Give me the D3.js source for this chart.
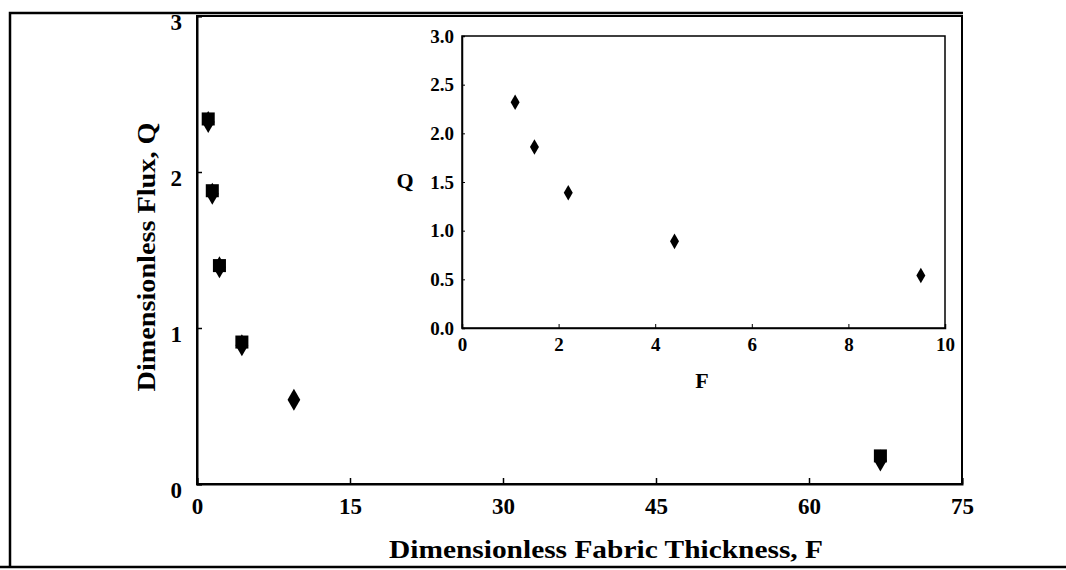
<!DOCTYPE html>
<html>
<head>
<meta charset="utf-8">
<script src="https://cdn.jsdelivr.net/npm/d3@7"></script>
<style>
  body { margin: 0; background: #fff; }
  svg { display: block; }
  text { font-family: "Liberation Serif", "DejaVu Serif", serif; font-weight: bold; fill: #000; }
</style>
</head>
<body>
<div id="chart"></div>
<script>
// data
const calcF = [1.1, 1.5, 2.2, 4.4, 9.5, 67];
const calcQ = [2.32, 1.86, 1.39, 0.89, 0.54, 0.15];
const measF = [1.1, 1.5, 2.2, 4.4, 67];
const measQ = [2.34, 1.88, 1.40, 0.91, 0.18];
const mainXTicks = [0, 15, 30, 45, 60, 75];
const mainYTicks = [0, 1, 2, 3];
const insetXTicks = [0, 2, 4, 6, 8, 10];
const insetYTicks = [0, 0.5, 1.0, 1.5, 2.0, 2.5, 3.0];

const width = 1066, height = 570;

const svg = d3.select("#chart").append("svg")
  .attr("width", width)
  .attr("height", height);

// outer frame (scanned box)
svg.append("path")
  .attr("d", "M10,567 L10,13 L963,13")
  .attr("fill", "none").attr("stroke", "#000").attr("stroke-width", 2.5);
svg.append("line")
  .attr("x1", 0).attr("x2", width).attr("y1", 567).attr("y2", 567)
  .attr("stroke", "#000").attr("stroke-width", 2.5);

// main plot
const x = d3.scaleLinear().domain([0, 75]).range([197, 962]);
const y = d3.scaleLinear().domain([0, 3]).range([484, 16]);

const main = svg.append("g");
main.append("rect")
  .attr("x", x(0)).attr("y", y(3))
  .attr("width", x(75) - x(0)).attr("height", y(0) - y(3))
  .attr("fill", "none").attr("stroke", "#000").attr("stroke-width", 2);

const xAxis = main.append("g")
  .attr("transform", `translate(0,${y(0)})`)
  .call(d3.axisBottom(x).tickValues(mainXTicks).tickFormat(d3.format("d")).tickSize(-6).tickPadding(16));
const yAxis = main.append("g")
  .attr("transform", `translate(${x(0)},0)`)
  .call(d3.axisLeft(y).tickValues(mainYTicks).tickFormat(d3.format("d")).tickSize(-5).tickPadding(15));
[xAxis, yAxis].forEach(a => {
  a.select(".domain").attr("stroke-width", 2);
  a.selectAll(".tick line").attr("stroke-width", 1.5);
  a.selectAll("text").style("font-size", "23px").attr("fill", "#000")
    .style("font-family", "'Liberation Serif', serif").style("font-weight", "bold");
});
yAxis.selectAll("text").attr("dy", "0.6em");
xAxis.selectAll("text").attr("dy", "0.6em");

main.append("text")
  .attr("transform", `translate(155,257) rotate(-90)`)
  .attr("text-anchor", "middle")
  .attr("textLength", 269)
  .attr("lengthAdjust", "spacingAndGlyphs")
  .style("font-size", "25px")
  .text("Dimensionless  Flux,  Q");

main.append("text")
  .attr("x", 606).attr("y", 558)
  .attr("text-anchor", "middle")
  .attr("textLength", 434)
  .attr("lengthAdjust", "spacingAndGlyphs")
  .style("font-size", "26px")
  .text("Dimensionless  Fabric  Thickness,  F");

const diamond = d3.symbol().type(d3.symbolDiamond);
const square = d3.symbol().type(d3.symbolSquare);

main.append("g").selectAll("path")
  .data(d3.range(calcF.length))
  .join("path")
    .attr("transform", i => `translate(${x(calcF[i])},${y(calcQ[i])})`)
    .attr("d", diamond.size(140)());

main.append("g").selectAll("path")
  .data(d3.range(measF.length))
  .join("path")
    .attr("transform", i => `translate(${x(measF[i])},${y(measQ[i])})`)
    .attr("d", square.size(170)());

// inset
const ix = d3.scaleLinear().domain([0, 10]).range([462, 945]);
const iy = d3.scaleLinear().domain([0, 3]).range([328, 36]);

const inset = svg.append("g");
inset.append("rect")
  .attr("x", ix(0)).attr("y", iy(3))
  .attr("width", ix(10) - ix(0)).attr("height", iy(0) - iy(3))
  .attr("fill", "#fff").attr("stroke", "#000").attr("stroke-width", 1.5);

const ixAxis = inset.append("g")
  .attr("transform", `translate(0,${iy(0)})`)
  .call(d3.axisBottom(ix).tickValues(insetXTicks).tickSize(-4).tickPadding(10));
const iyAxis = inset.append("g")
  .attr("transform", `translate(${ix(0)},0)`)
  .call(d3.axisLeft(iy).tickValues(insetYTicks).tickFormat(d3.format(".1f")).tickSize(-3).tickPadding(8));
[ixAxis, iyAxis].forEach(a => {
  a.select(".domain").attr("stroke-width", 1.5);
  a.selectAll(".tick line").attr("stroke-width", 1);
  a.selectAll("text").style("font-size", "19px").attr("fill", "#000")
    .style("font-family", "'Liberation Serif', serif").style("font-weight", "bold");
});

inset.append("text")
  .attr("x", 405).attr("y", 188)
  .attr("text-anchor", "middle")
  .style("font-size", "22px")
  .text("Q");
inset.append("text")
  .attr("x", 702).attr("y", 388)
  .attr("text-anchor", "middle")
  .style("font-size", "22px")
  .text("F");

const insetIdx = d3.range(calcF.length).filter(i => calcF[i] <= 10);
inset.append("g").selectAll("path")
  .data(insetIdx)
  .join("path")
    .attr("transform", i => `translate(${ix(calcF[i])},${iy(calcQ[i])})`)
    .attr("d", diamond.size(70)());
</script>
</body>
</html>
